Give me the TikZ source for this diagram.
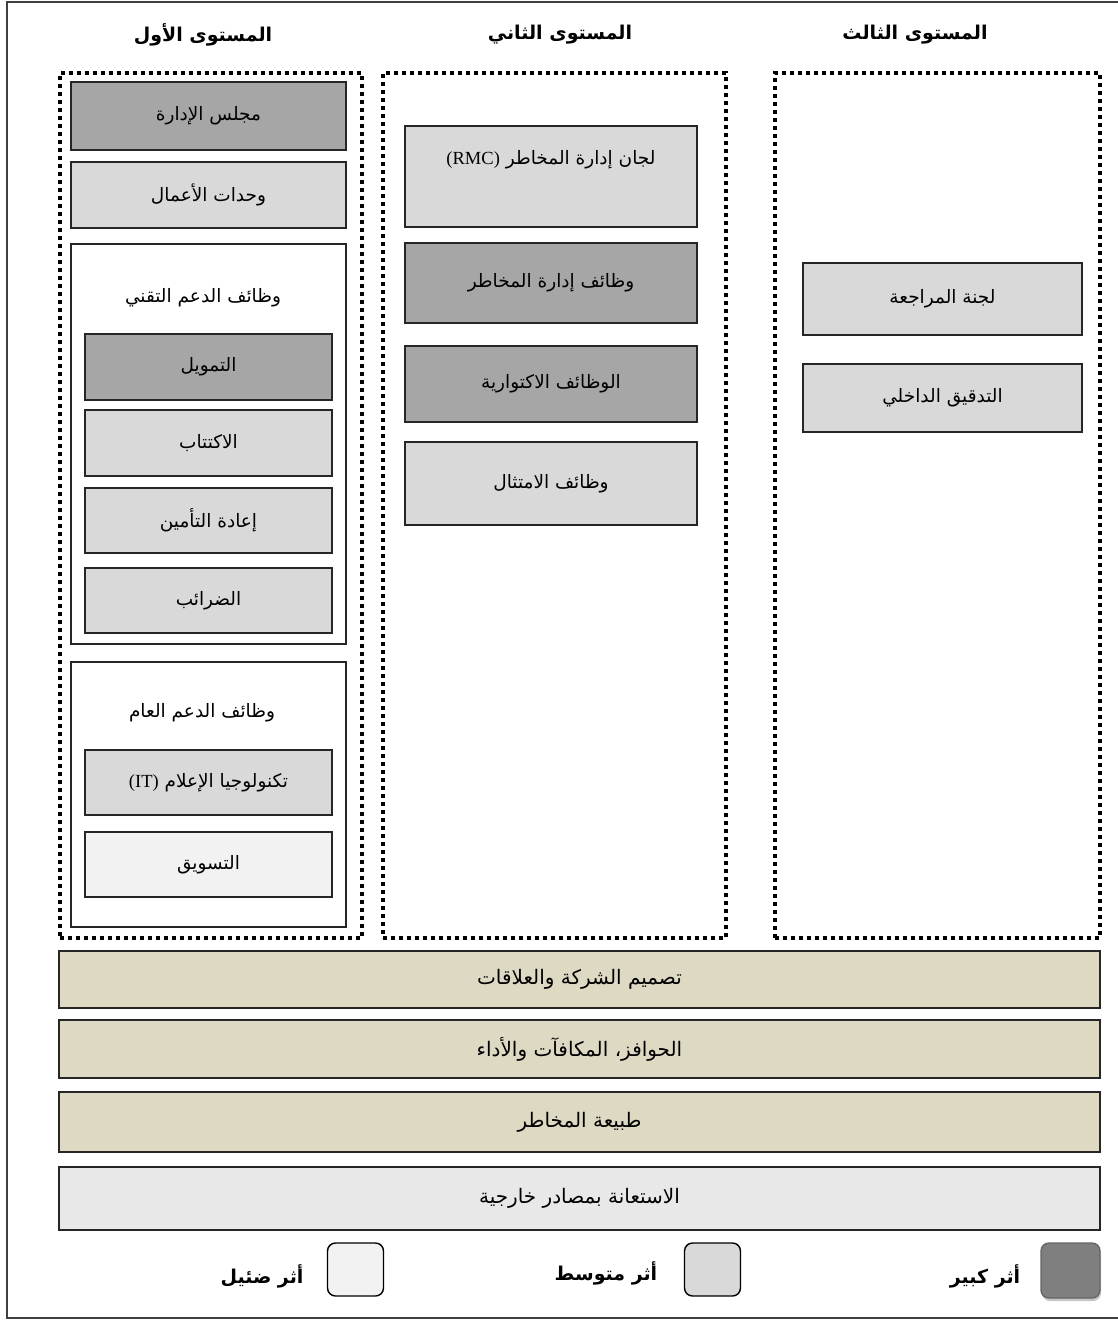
\documentclass[tikz,border=0pt]{standalone}
\usepackage{fontspec}
\usepackage{tikz}
\usetikzlibrary{shadows}
\newfontfamily\arabicfont[Script=Arabic]{DejaVu Sans}
\newfontfamily\latinfont{Liberation Serif}
\TeXXeTstate=1
\definecolor{darkgr}{HTML}{A6A6A6}
\definecolor{midgr}{HTML}{D9D9D9}
\definecolor{lightgr}{HTML}{F2F2F2}
\definecolor{beige}{HTML}{DDD9C3}
\definecolor{biggr}{HTML}{7F7F7F}
\newcommand{\artxt}[1]{{\arabicfont\beginR #1\endR}}
\newcommand{\lat}[1]{{\latinfont\beginL #1\endL}}

\begin{document}
\begin{tikzpicture}[x=1pt,y=-1pt,
    fnbox/.style={draw=black!85, line width=1.6pt, inner sep=0pt,
      font=\fontsize{18.5}{22}\selectfont},
    sect/.style={draw=black!85, line width=1.6pt, fill=white, inner sep=0pt,
      minimum width=275pt},
    lvl/.style={draw, line width=4pt, dash pattern=on 4pt off 4pt, inner sep=0pt,
      minimum height=865pt},
    head/.style={font=\fontsize{19}{22}\selectfont\bfseries},
    bar/.style={draw=black!85, line width=1.6pt, inner sep=0pt, minimum width=1041pt,
      font=\fontsize{20}{24}\selectfont},
    key/.style={draw=black, line width=1.4pt, rounded corners=8pt, inner sep=0pt,
      minimum width=56pt, minimum height=53pt},
    keytxt/.style={font=\fontsize{19}{22}\selectfont\bfseries}]
  \useasboundingbox (0,0) rectangle (1117,1320);
  \draw[line width=1.5pt, black!75] (7,2) rectangle (1122,1318);

  % level headings
  \node[head] (h1) at (203,35) {\artxt{المستوى الأول}};
  \node[head] (h2) at (560,35) {\artxt{المستوى الثاني}};
  \node[head] (h3) at (915,35) {\artxt{المستوى الثالث}};

  % dotted level frames
  \node[lvl, minimum width=302pt] (lvl1) at (211,505.5) {};
  \node[lvl, minimum width=343pt] (lvl2) at (554.5,505.5) {};
  \node[lvl, minimum width=325pt] (lvl3) at (937.5,505.5) {};

  % first level
  \node[fnbox, fill=darkgr, minimum width=275pt, minimum height=68pt] (board) at (208.5,116) {\artxt{مجلس الإدارة}};
  \node[fnbox, fill=midgr, minimum width=275pt, minimum height=66pt] (units) at (208.5,195) {\artxt{وحدات الأعمال}};
  \node[sect, minimum height=400pt] (tech) at (208.5,444) {};
  \node[fnbox, draw=none] (techt) at (203,298) {\artxt{وظائف الدعم التقني}};
  \node[fnbox, fill=darkgr, minimum width=247pt, minimum height=66pt] (fin) at (208.5,367) {\artxt{التمويل}};
  \node[fnbox, fill=midgr, minimum width=247pt, minimum height=66pt] (uw) at (208.5,443) {\artxt{الاكتتاب}};
  \node[fnbox, fill=midgr, minimum width=247pt, minimum height=65pt] (reins) at (208.5,520.5) {\artxt{إعادة التأمين}};
  \node[fnbox, fill=midgr, minimum width=247pt, minimum height=65pt] (tax) at (208.5,600.5) {\artxt{الضرائب}};
  \node[sect, minimum height=265pt] (gen) at (208.5,794.5) {};
  \node[fnbox, draw=none] (gent) at (202,713) {\artxt{وظائف الدعم العام}};
  \node[fnbox, fill=midgr, minimum width=247pt, minimum height=65pt] (it) at (208.5,782.5) {\artxt{تكنولوجيا الإعلام \lat{(IT)}}};
  \node[fnbox, fill=lightgr, minimum width=247pt, minimum height=65pt] (mkt) at (208.5,864.5) {\artxt{التسويق}};

  % second level
  \node[fnbox, fill=midgr, minimum width=292pt, minimum height=101pt] (rmc) at (551,176.5) {};
  \node[fnbox, draw=none] (rmct) at (551,160) {\artxt{لجان إدارة المخاطر \lat{(RMC)}}};
  \node[fnbox, fill=darkgr, minimum width=292pt, minimum height=80pt] (risk) at (551,283) {\artxt{وظائف إدارة المخاطر}};
  \node[fnbox, fill=darkgr, minimum width=292pt, minimum height=76pt] (act) at (551,384) {\artxt{الوظائف الاكتوارية}};
  \node[fnbox, fill=midgr, minimum width=292pt, minimum height=83pt] (comp) at (551,483.5) {\artxt{وظائف الامتثال}};

  % third level
  \node[fnbox, fill=midgr, minimum width=279pt, minimum height=72pt] (audc) at (942.5,299) {\artxt{لجنة المراجعة}};
  \node[fnbox, fill=midgr, minimum width=279pt, minimum height=68pt] (inaud) at (942.5,398) {\artxt{التدقيق الداخلي}};

  % cross-cutting bars
  \node[bar, fill=beige, minimum height=57pt] (design) at (579.5,979.5) {\artxt{تصميم الشركة والعلاقات}};
  \node[bar, fill=beige, minimum height=58pt] (reward) at (579.5,1049) {\artxt{الحوافز، المكافآت والأداء}};
  \node[bar, fill=beige, minimum height=60pt] (nature) at (579.5,1122) {\artxt{طبيعة المخاطر}};
  \node[bar, fill=black!9, minimum height=63pt] (outs) at (579.5,1198.5) {\artxt{الاستعانة بمصادر خارجية}};

  % legend
  \node[key, draw=biggr!80!black, fill=biggr, minimum width=59pt, minimum height=55pt,
    drop shadow={shadow xshift=1pt, shadow yshift=-3pt, fill=black!45}] (kbig) at (1070.5,1270.5) {};
  \node[keytxt] (kbigt) at (985,1276) {\artxt{أثر كبير}};
  \node[key, fill=midgr] (kmid) at (712.5,1269.5) {};
  \node[keytxt] (kmidt) at (606,1273) {\artxt{أثر متوسط}};
  \node[key, fill=lightgr] (klow) at (355.5,1269.5) {};
  \node[keytxt] (klowt) at (262,1276) {\artxt{أثر ضئيل}};
\end{tikzpicture}
\end{document}
